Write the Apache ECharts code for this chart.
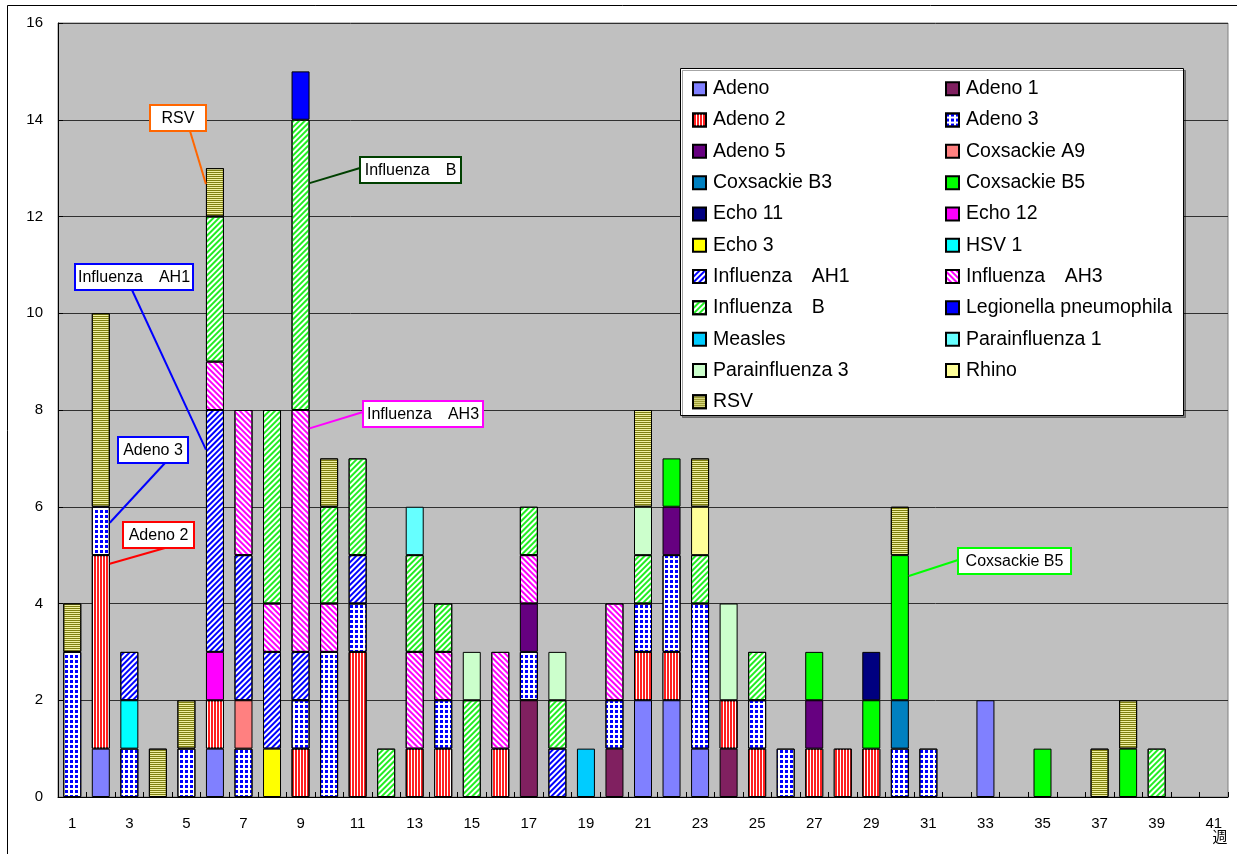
<!DOCTYPE html>
<html><head><meta charset="utf-8">
<script src="https://cdn.jsdelivr.net/npm/echarts@6/dist/echarts.min.js"></script>
<style>html,body{margin:0;padding:0;background:#fff}#c{width:1237px;height:854px}</style>
</head><body><div id="c"></div>
<script>
// ---------- DATA ----------
const weeks = ['1','2','3','4','5','6','7','8','9','10','11','12','13','14','15','16','17','18','19','20',
  '21','22','23','24','25','26','27','28','29','30','31','32','33','34','35','36','37','38','39','40','41'];
const yTicks = [0,2,4,6,8,10,12,14,16];
// [week, count]
const adeno      = [[2,1],[6,1],[21,2],[22,2],[23,1],[33,2]];
const adeno1     = [[17,2],[20,1],[24,1]];
const adeno2     = [[2,4],[6,1],[9,1],[11,3],[13,1],[14,1],[16,1],[21,1],[22,1],[24,1],[25,1],[27,1],[28,1],[29,1]];
const adeno3     = [[1,3],[2,1],[3,1],[5,1],[7,1],[9,1],[10,3],[11,1],[14,1],[17,1],[20,1],[21,1],[22,2],[23,3],[25,1],[26,1],[30,1],[31,1]];
const adeno5     = [[17,1],[22,1],[27,1]];
const coxA9      = [[7,1]];
const coxB3      = [[30,1]];
const coxB5      = [[22,1],[27,1],[29,1],[30,3],[35,1],[38,1]];
const echo11     = [[29,1]];
const echo12     = [[6,1]];
const echo3      = [[8,1]];
const hsv1       = [[3,1]];
const fluAH1     = [[3,1],[6,5],[7,3],[8,2],[9,1],[11,1],[18,1]];
const fluAH3     = [[6,1],[7,3],[8,1],[9,5],[10,1],[13,2],[14,1],[16,2],[17,1],[20,2]];
const fluB       = [[6,3],[8,4],[9,6],[10,2],[11,2],[12,1],[13,2],[14,1],[15,2],[17,1],[18,1],[21,1],[23,1],[25,1],[39,1]];
const legionella = [[9,1]];
const measles    = [[19,1]];
const para1      = [[13,1]];
const para3      = [[15,1],[18,1],[21,1],[24,2]];
const rhino      = [[23,1]];
const rsv        = [[1,1],[2,4],[4,1],[5,1],[6,1],[10,1],[21,2],[23,1],[30,1],[37,1],[38,1]];

const seriesNames = ['Adeno','Adeno 1','Adeno 2','Adeno 3','Adeno 5','Coxsackie A9','Coxsackie B3','Coxsackie B5',
  'Echo 11','Echo 12','Echo 3','HSV 1','Influenza\u3000AH1','Influenza\u3000AH3','Influenza\u3000B',
  'Legionella pneumophila','Measles','Parainfluenza 1','Parainfluenza 3','Rhino','RSV'];
const seriesValues = [adeno,adeno1,adeno2,adeno3,adeno5,coxA9,coxB3,coxB5,echo11,echo12,echo3,hsv1,
  fluAH1,fluAH3,fluB,legionella,measles,para1,para3,rhino,rsv];

// callouts: label, week, value on the bar where the leader line attaches
const callouts = [
  {text:'RSV',                week:6,  value:12.67},
  {text:'Influenza\u3000AH1', week:6,  value:7.18},
  {text:'Adeno 3',            week:2,  value:5.67},
  {text:'Adeno 2',            week:2,  value:4.82},
  {text:'Influenza\u3000B',   week:9,  value:12.69},
  {text:'Influenza\u3000AH3', week:9,  value:7.62},
  {text:'Coxsackie B5',       week:30, value:4.57}
];

// ---------- STYLE / LAYOUT ----------
const FONT = "'Liberation Sans', 'Noto Sans CJK JP', sans-serif";
const BAR_W = 18;
const stripe = (color, rot) => ({symbol:'rect', symbolSize:1, color, dashArrayX:[1,0], dashArrayY:[2,2], rotation:rot});
const styles = {
  'Adeno': {color:'#8080FF'},
  'Adeno 1': {color:'#802060'},
  'Adeno 2': {color:'#FF2020', decal:{symbol:'rect', symbolSize:1, color:'#FFFFFF', dashArrayX:[1,2], dashArrayY:[1,0]}},
  'Adeno 3': {color:'#FFFFFF', decal:{symbol:'rect', symbolSize:1, color:'#0000FF', dashArrayX:[3,1.5], dashArrayY:[3,1.5]}},
  'Adeno 5': {color:'#660080'},
  'Coxsackie A9': {color:'#FF8080'},
  'Coxsackie B3': {color:'#0080C0'},
  'Coxsackie B5': {color:'#00FF00'},
  'Echo 11': {color:'#000080'},
  'Echo 12': {color:'#FF00FF'},
  'Echo 3': {color:'#FFFF00'},
  'HSV 1': {color:'#00FFFF'},
  'Influenza\u3000AH1': {color:'#FFFFFF', decal:stripe('#0000FF', -Math.PI/4)},
  'Influenza\u3000AH3': {color:'#FFFFFF', decal:stripe('#FF00FF', Math.PI/4)},
  'Influenza\u3000B': {color:'#FFFFFF', decal:stripe('#22EE22', -Math.PI/4)},
  'Legionella pneumophila': {color:'#0000FF'},
  'Measles': {color:'#00CCFF'},
  'Parainfluenza 1': {color:'#66FFFF'},
  'Parainfluenza 3': {color:'#CCFFCC'},
  'Rhino': {color:'#FFFF99'},
  'RSV': {color:'#F0F0A0', decal:{symbol:'rect', symbolSize:1, color:'#808010', dashArrayX:[1,0], dashArrayY:[1,1]}}
};
const calloutLayout = {
  'RSV':               {x:150, y:105, w:56,  h:26, lx:190, ly:131, side:'left',  color:'#FF6600'},
  'Influenza\u3000AH1':{x:75,  y:264, w:118, h:26, lx:132, ly:290, side:'left',  color:'#0000FF'},
  'Adeno 3':           {x:118, y:437, w:70,  h:26, lx:165, ly:463, side:'right', color:'#0000FF'},
  'Adeno 2':           {x:123, y:522, w:71,  h:26, lx:165, ly:548, side:'right', color:'#FF0000'},
  'Influenza\u3000B':  {x:360, y:157, w:101, h:26, lx:360, ly:168, side:'right', color:'#004000'},
  'Influenza\u3000AH3':{x:363, y:401, w:120, h:26, lx:363, ly:412, side:'right', color:'#FF00FF'},
  'Coxsackie B5':      {x:958, y:548, w:113, h:26, lx:958, ly:560, side:'right', color:'#00FF00'}
};

function dense(pairs){ const a = weeks.map(() => '-'); pairs.forEach(([w,v]) => { a[w-1] = v; }); return a; }

const series = seriesNames.map((name, i) => ({
  name, type:'bar', stack:'all', barWidth:BAR_W,
  data: dense(seriesValues[i]),
  itemStyle: Object.assign({borderColor:'#000', borderWidth:1}, styles[name]),
  emphasis:{disabled:true}
}));

const col1 = seriesNames.filter((n, i) => i % 2 === 0);
const col2 = seriesNames.filter((n, i) => i % 2 === 1);
const legendBase = {
  orient:'vertical', top:79, itemWidth:13, itemHeight:13, itemGap:11.8, icon:'rect',
  selectedMode:false, padding:0,
  textStyle:{fontSize:19.5, lineHeight:16, color:'#000', fontFamily:FONT, padding:[0,0,0,2]}
};

const chart = echarts.init(document.getElementById('c'), null, {renderer:'canvas'});
chart.setOption({
  animation:false,
  backgroundColor:'#FFFFFF',
  grid:{left:58, right:9, top:23, bottom:57, show:true, backgroundColor:'#C0C0C0', borderColor:'#808080', borderWidth:1},
  xAxis:{type:'category', data:weeks, boundaryGap:true,
    axisLine:{lineStyle:{color:'#000', width:1}},
    axisTick:{show:true, inside:true, length:5, interval:0, lineStyle:{color:'#000'}},
    axisLabel:{interval:1, margin:19, color:'#000', fontSize:15, fontFamily:FONT},
    splitLine:{show:false}},
  yAxis:{type:'value', min:yTicks[0], max:yTicks[yTicks.length-1], interval:yTicks[1]-yTicks[0],
    axisLine:{show:true, lineStyle:{color:'#000'}},
    axisTick:{show:true, inside:true, length:5, lineStyle:{color:'#000'}},
    axisLabel:{margin:15, color:'#000', fontSize:15, fontFamily:FONT},
    splitLine:{show:true, lineStyle:{color:'#303030', width:1}}},
  legend:[Object.assign({left:692, data:col1}, legendBase), Object.assign({left:945, data:col2}, legendBase)],
  series
});

const g = [
  {type:'rect', z:0, silent:true, shape:{x:7.5, y:5.5, width:1300, height:900}, style:{fill:null, stroke:'#000', lineWidth:1}},
  {type:'rect', z:1, silent:true, shape:{x:680.5, y:68.5, width:503, height:347}, style:{fill:'#FFFFFF', stroke:'#000', lineWidth:1, shadowColor:'rgba(0,0,0,0.35)', shadowOffsetX:2, shadowOffsetY:2, shadowBlur:0}},
  {type:'text', z:5, silent:true, x:1220, y:838, style:{text:'週', fill:'#000', fontSize:15, fontFamily:FONT, align:'center', verticalAlign:'middle', textAlign:'center', textVerticalAlign:'middle'}}
];
callouts.forEach(c => {
  const L = calloutLayout[c.text];
  const p = chart.convertToPixel({xAxisIndex:0, yAxisIndex:0}, [c.week - 1, c.value]);
  const ax = p[0] + (L.side === 'left' ? -BAR_W/2 : BAR_W/2);
  g.push({type:'line', z:100, silent:true, shape:{x1:ax, y1:p[1], x2:L.lx, y2:L.ly}, style:{stroke:L.color, lineWidth:2}});
  g.push({type:'rect', z:101, silent:true, shape:{x:L.x, y:L.y, width:L.w, height:L.h}, style:{fill:'#FFFFFF', stroke:L.color, lineWidth:2}});
  g.push({type:'text', z:102, silent:true, x:L.x + L.w/2, y:L.y + L.h/2 + 1,
    style:{text:c.text, fill:'#000', fontSize:16, fontFamily:FONT, align:'center', verticalAlign:'middle', textAlign:'center', textVerticalAlign:'middle'}});
});
chart.setOption({graphic:g});
</script>
</body></html>
